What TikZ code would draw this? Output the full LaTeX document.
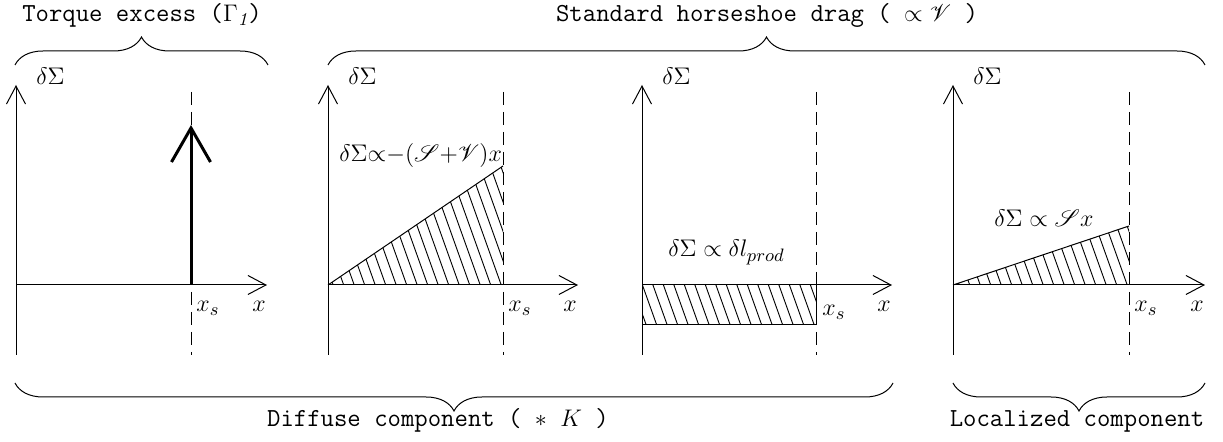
\documentclass[tikz,border=0pt]{standalone}
\usepackage{fontspec}
\usepackage{mathrsfs}
\usetikzlibrary{arrows.meta,decorations.pathreplacing}
\begin{document}
\begin{tikzpicture}[x=0.5pt,y=-0.5pt,
  every node/.style={inner sep=0pt,font=\fontsize{13}{15}\selectfont},
  axis/.style={line width=0.5pt,-{Straight Barb[length=9pt,width=9.5pt]}},
  guide/.style={line width=0.5pt,dash pattern=on 6.5pt off 3.5pt},
  edge/.style={line width=0.5pt},
  hatch/.style={line width=0.45pt},
  spike/.style={line width=1.5pt,-{Straight Barb[length=17pt,width=19.5pt]}},
  bracestyle/.style={line width=0.5pt,decorate,decoration={brace,amplitude=14pt}},
  lab/.style={font=\fontsize{13}{15}\selectfont\ttfamily}]
\useasboundingbox (0,0) rectangle (1223,442);

% panels: axes, guides, labels
\foreach \n/\ox/\dx/\tx in {1/16/191/267, 2/328/503/578, 3/642/816/892, 4/953/1129/1205}{
  \coordinate (o\n) at (\ox,285);
  \coordinate (yb\n) at (\ox,355);
  \coordinate (yt\n) at (\ox,85);
  \coordinate (xt\n) at (\tx,285);
  \coordinate (dt\n) at (\dx,92);
  \coordinate (db\n) at (\dx,355);
  \draw[axis] (yb\n) -- (yt\n);
  \draw[axis] (o\n) -- (xt\n);
  \draw[guide] (dt\n) -- (db\n);
  \node[anchor=base west] (ds\n) at (\ox+20,85) {$\delta\Sigma$};
  \node[anchor=base] (xl\n) at (\tx-8,312) {$x$};
}
\node[anchor=base west] (xs1) at (196,312) {$x_s$};
\node[anchor=base west] (xs2) at (508,312) {$x_s$};
\node[anchor=base west] (xs3) at (822,316) {$x_s$};
\node[anchor=base west] (xs4) at (1134,312) {$x_s$};

% panel 1: spike
\coordinate (sb) at (191,285);
\coordinate (st) at (191,125);
\draw[spike] (sb) -- (st);

% panel 2: triangle
\coordinate (p2) at (503,166);
\coordinate (c2) at (503,285);
\begin{scope}
  \clip (o2) -- (p2) -- (c2) -- cycle;
  \foreach \i in {-5,...,22}{
    \draw[hatch] (503-\i*10.5,290) -- ++(-50,-140);
  }
\end{scope}
\draw[edge] (o2) -- (p2);
\node[anchor=base west,font=\fontsize{12}{14}\selectfont] (f2) at (339,162) {${\delta\Sigma}{\propto}{-}(\mathscr{S}{+}\mathscr{V})x$};

% panel 3: rectangle
\coordinate (r3a) at (642,325);
\coordinate (r3b) at (816,325);
\coordinate (r3c) at (816,285);
\begin{scope}
  \clip (o3) rectangle (r3b);
  \foreach \i in {-2,...,18}{
    \draw[hatch] (816-\i*10.5,330) -- ++(-20,-56);
  }
\end{scope}
\draw[edge] (r3a) -- (r3b) -- (r3c);
\node[anchor=base west] (f3) at (668,257) {$\delta\Sigma \propto \delta l_{prod}$};

% panel 4: triangle
\coordinate (p4) at (1129,226);
\coordinate (c4) at (1129,285);
\begin{scope}
  \clip (o4) -- (p4) -- (c4) -- cycle;
  \foreach \i in {-3,...,18}{
    \draw[hatch] (1129-\i*10.5,290) -- ++(-30,-84);
  }
\end{scope}
\draw[edge] (o4) -- (p4);
\node[anchor=base west] (f4) at (994,227) {$\delta\Sigma \propto \mathscr{S}x$};

% braces
\coordinate (b1l) at (15,65);
\coordinate (b1r) at (268,65);
\draw[bracestyle] (b1l) -- (b1r);
\node[lab,anchor=base] (t1) at (142,22) {Torque excess ($\Gamma_{\mathit{1}}$)};

\coordinate (b2l) at (328,65);
\coordinate (b2r) at (1205,65);
\draw[bracestyle] (b2l) -- (b2r);
\node[lab,anchor=base] (t2) at (767,22) {Standard horseshoe drag ( $\propto \mathscr{V}$ )};

\coordinate (b3l) at (15,383);
\coordinate (b3r) at (893,383);
\draw[bracestyle] (b3r) -- (b3l);
\node[lab,anchor=base] (t3) at (438,427) {Diffuse component ( $\ast$ $K$ )};

\coordinate (b4l) at (953,383);
\coordinate (b4r) at (1205,383);
\draw[bracestyle] (b4r) -- (b4l);
\node[lab,anchor=base] (t4) at (1077,427) {Localized component};
\end{tikzpicture}
\end{document}
